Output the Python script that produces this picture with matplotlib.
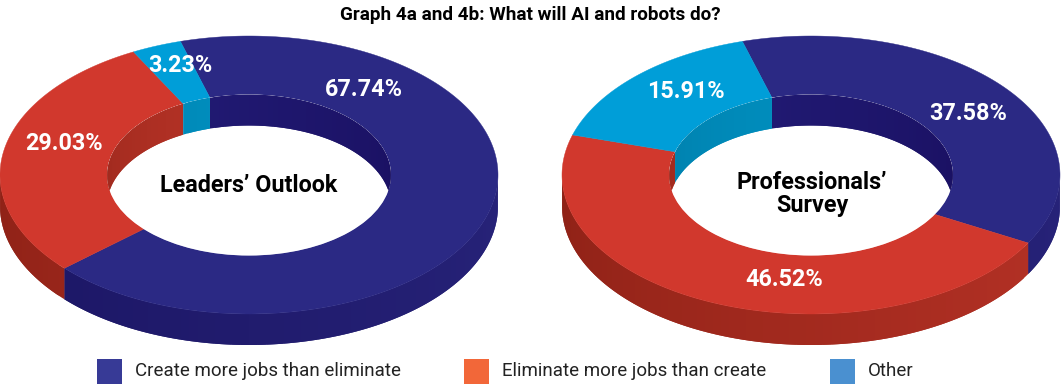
import numpy as np
import matplotlib
matplotlib.use('Agg')
import matplotlib.pyplot as plt
from matplotlib.colors import to_rgb
from matplotlib.patches import Ellipse, Rectangle

plt.rcParams['font.family'] = ['Roboto', 'DejaVu Sans']

# data
title = 'Graph 4a and 4b: What will AI and robots do?'
categories = ['Create more jobs than eliminate', 'Eliminate more jobs than create', 'Other']
leaders = [67.74, 29.03, 3.23]
professionals = [37.58, 46.52, 15.91]
leaders_label = "Leaders\u2019 Outlook"
professionals_label = "Professionals\u2019\nSurvey"

# colours
top_col = ['#2b2984', '#d1382d', '#009ed8']
side_dark = ['#1a1462', '#8e2116', '#00779f']
side_light = ['#272379', '#b83327', '#008ab8']
wall_dark = ['#1a1062', '#a02a1e', '#0080ad']
wall_light = ['#241f7c', '#b83327', '#008fbf']
swatch_col = ['#373a96', '#f26739', '#4a90d0']

# geometry, in pixels
RX, RY = 249, 139
IX, IY = 142, 80.5
DEPTH = 31
CY = 175
START = -16


def arc(cx, cy, rx, ry, a0, a1):
    # angles in degrees, clockwise from the top
    a = np.radians(np.linspace(a0, a1, max(int(abs(a1 - a0) * 2) + 2, 2)))
    return cx + rx * np.sin(a), cy - ry * np.cos(a)


def mix(c0, c1, t):
    c0, c1 = np.array(to_rgb(c0)), np.array(to_rgb(c1))
    return tuple(c0 + (c1 - c0) * t)


def band(ax, cx, cy, rx, ry, a0, a1, shade, zorder, clip=None):
    # strips between one arc and the same arc moved down by DEPTH,
    # each one runs under the next so no seams show
    edges = np.append(np.arange(a0, a1, 2.0), a1)
    for s0, s1 in zip(edges[:-1], edges[1:]):
        x, y = arc(cx, cy, rx, ry, s0, min(s1 + 2, a1))
        col = shade((s0 + s1) / 2)
        p = ax.fill(np.r_[x, x[::-1]], np.r_[y, y[::-1] + DEPTH], color=col, lw=0, zorder=zorder)[0]
        if clip is not None:
            p.set_clip_path(clip)


def donut(ax, cx, shares):
    bounds = START + np.cumsum([0] + shares) * 3.6
    bounds[-1] = START + 360
    # outer side, front half only
    for i in range(3):
        a0 = max(bounds[i], 90)
        a1 = min(bounds[i + 1], 270)
        if a1 > a0:
            band(ax, cx, CY, RX, RY, a0, a1,
                 lambda a, i=i: mix(side_light[i], side_dark[i], (a - 90) / 180), 2)
    # top face
    for i in range(3):
        xo, yo = arc(cx, CY, RX, RY, bounds[i], bounds[i + 1])
        xi, yi = arc(cx, CY, IX, IY, bounds[i], bounds[i + 1])
        ax.fill(np.r_[xo, xi[::-1]], np.r_[yo, yi[::-1]], color=top_col[i], lw=0.3, zorder=3)
    # hole and inner wall, back half only
    hole = Ellipse((cx, CY), 2 * IX, 2 * IY, fc='white', ec='none', zorder=4)
    ax.add_patch(hole)
    for i in range(3):
        for off in (0, 360):
            a0 = max(bounds[i], -90 + off)
            a1 = min(bounds[i + 1], 90 + off)
            if a1 > a0:
                band(ax, cx, CY, IX, IY, a0, a1,
                     lambda a, i=i, off=off: mix(wall_light[i], wall_dark[i], np.clip((a - off + 90) / 180 if i == 0 else 1 - (a - off + 90) / 90, 0, 1)),
                     5, clip=hole)


fig = plt.figure(figsize=(10.61, 3.85), dpi=100)
ax = fig.add_axes([0, 0, 1, 1])
ax.set_xlim(0, 1061)
ax.set_ylim(385, 0)
ax.axis('off')

donut(ax, 249, leaders)
donut(ax, 811, professionals)

ax.text(530, 15, title, ha='center', va='center', fontsize=13.6, fontweight='bold', color='black')

lab = dict(ha='center', va='center', fontsize=16.8, fontweight='bold', color='white', zorder=8)
ax.text(364, 90, '%.2f%%' % leaders[0], **lab)
ax.text(64, 143, '%.2f%%' % leaders[1], **lab)
ax.text(180, 65, '%.2f%%' % leaders[2], **lab)
ax.text(968, 114, '%.2f%%' % professionals[0], **lab)
ax.text(784, 280, '%.2f%%' % professionals[1], **lab)
ax.text(686, 92, '%.2f%%' % professionals[2], **lab)

ax.text(249, 186, leaders_label, ha='center', va='center', fontsize=16.8, fontweight='bold', zorder=8)
ax.text(812, 194, professionals_label, ha='center', va='center', fontsize=16.8, fontweight='bold',
        linespacing=1.05, zorder=8)

# legend
sw_x = [97, 464, 830]
for i in range(3):
    ax.add_patch(Rectangle((sw_x[i], 359), 25, 25, fc=swatch_col[i], ec='none'))
    ax.text(sw_x[i] + 38, 371.5, categories[i], ha='left', va='center', fontsize=13.5, color='#222222')

fig.savefig('out.png', dpi=100)
